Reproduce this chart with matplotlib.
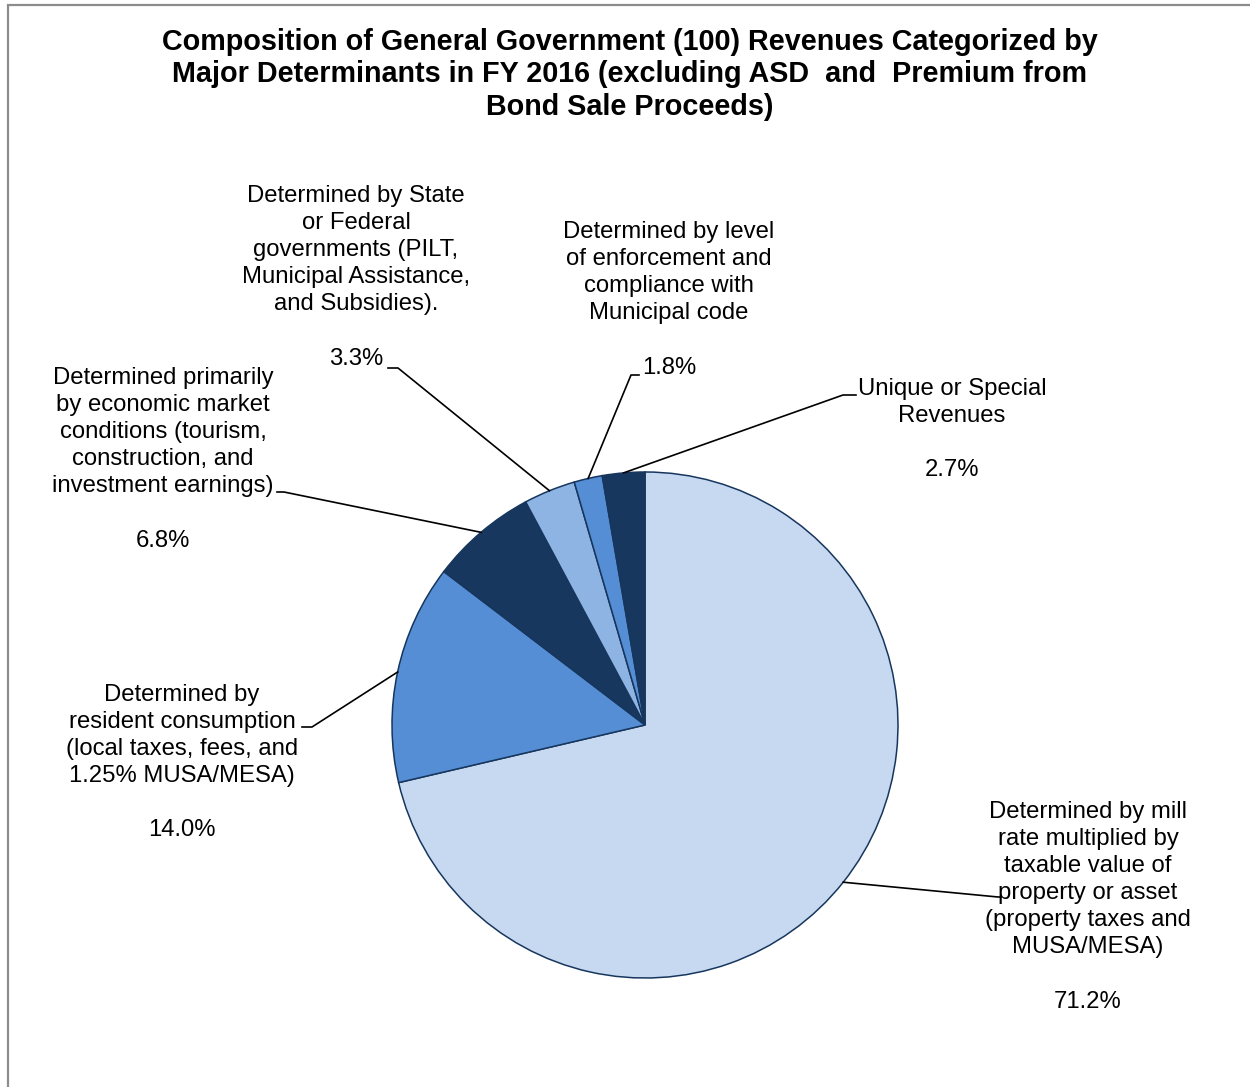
import matplotlib.pyplot as plt
import numpy as np
from matplotlib.patches import Rectangle

plt.rcParams['font.family'] = ['Liberation Sans', 'DejaVu Sans']

# Data
categories = [
    'Determined by mill\nrate multiplied by\ntaxable value of\nproperty or asset\n(property taxes and\nMUSA/MESA)',
    'Determined by\nresident consumption\n(local taxes, fees, and\n1.25% MUSA/MESA)',
    'Determined primarily\nby economic market\nconditions (tourism,\nconstruction, and\ninvestment earnings)',
    'Determined by State\nor Federal\ngovernments (PILT,\nMunicipal Assistance,\nand Subsidies).',
    'Determined by level\nof enforcement and\ncompliance with\nMunicipal code',
    'Unique or Special\nRevenues',
]
shares = [71.2, 14.0, 6.8, 3.3, 1.8, 2.7]
colors = ['#C6D9F1', '#558ED5', '#17375E', '#8EB4E3', '#558ED5', '#17375E']

title = ('Composition of General Government (100) Revenues Categorized by\n'
         'Major Determinants in FY 2016 (excluding ASD  and  Premium from\n'
         'Bond Sale Proceeds)')

W, H = 1250, 1087
CX, CY, R = 645, 725, 253

fig = plt.figure(figsize=(W / 100, H / 100), dpi=100)
fig.patch.set_facecolor('white')

# chart frame (partly off-canvas like the original)
fig.add_artist(Rectangle((8 / W, -0.05), 1.2, 1 - 5 / H + 0.05, transform=fig.transFigure,
                         fill=False, edgecolor='#8C8C8C', lw=1.6))

ax = fig.add_axes([(CX - R) / W, (H - CY - R) / H, 2 * R / W, 2 * R / H])
wedges, _ = ax.pie(shares, colors=colors, startangle=90, counterclock=False, radius=1,
                   wedgeprops=dict(edgecolor='#17365D', linewidth=1.1))
ax.set_xlim(-1, 1)
ax.set_ylim(-1, 1)
ax.axis('off')


def px(x, y):
    return (x - CX) / R, (CY - y) / R


# label layout: text top-center (px), elbow point (px), end of short horizontal (px)
layout = [
    ((1088, 801), (998, 897), (1001, 897)),
    ((182, 684), (312, 727), (302, 727)),
    ((163, 367), (284, 492), (277, 492)),
    ((356, 185), (398, 368), (388, 368)),
    ((669, 221), (631, 375), (639, 375)),
    ((952, 378), (843, 395), (856, 395)),
]

for w, cat, val, (tpos, elbow, end) in zip(wedges, categories, shares, layout):
    mid = np.deg2rad((w.theta1 + w.theta2) / 2)
    ex, ey = np.cos(mid), np.sin(mid)
    bx, by = px(*elbow)
    hx, hy = px(*end)
    ax.plot([ex, bx, hx], [ey, by, hy], color='black', lw=1.2, clip_on=False)
    tx, ty = px(*tpos)
    ax.text(tx, ty, f'{cat}\n\n{val:.1f}%', ha='center', va='top', fontsize=17.2,
            linespacing=1.30, color='black')

fig.text(630 / W, 1 - 28 / H, title, ha='center', va='top', fontsize=20.7,
         fontweight='bold', linespacing=1.20)

plt.savefig('out.png', dpi=100)
